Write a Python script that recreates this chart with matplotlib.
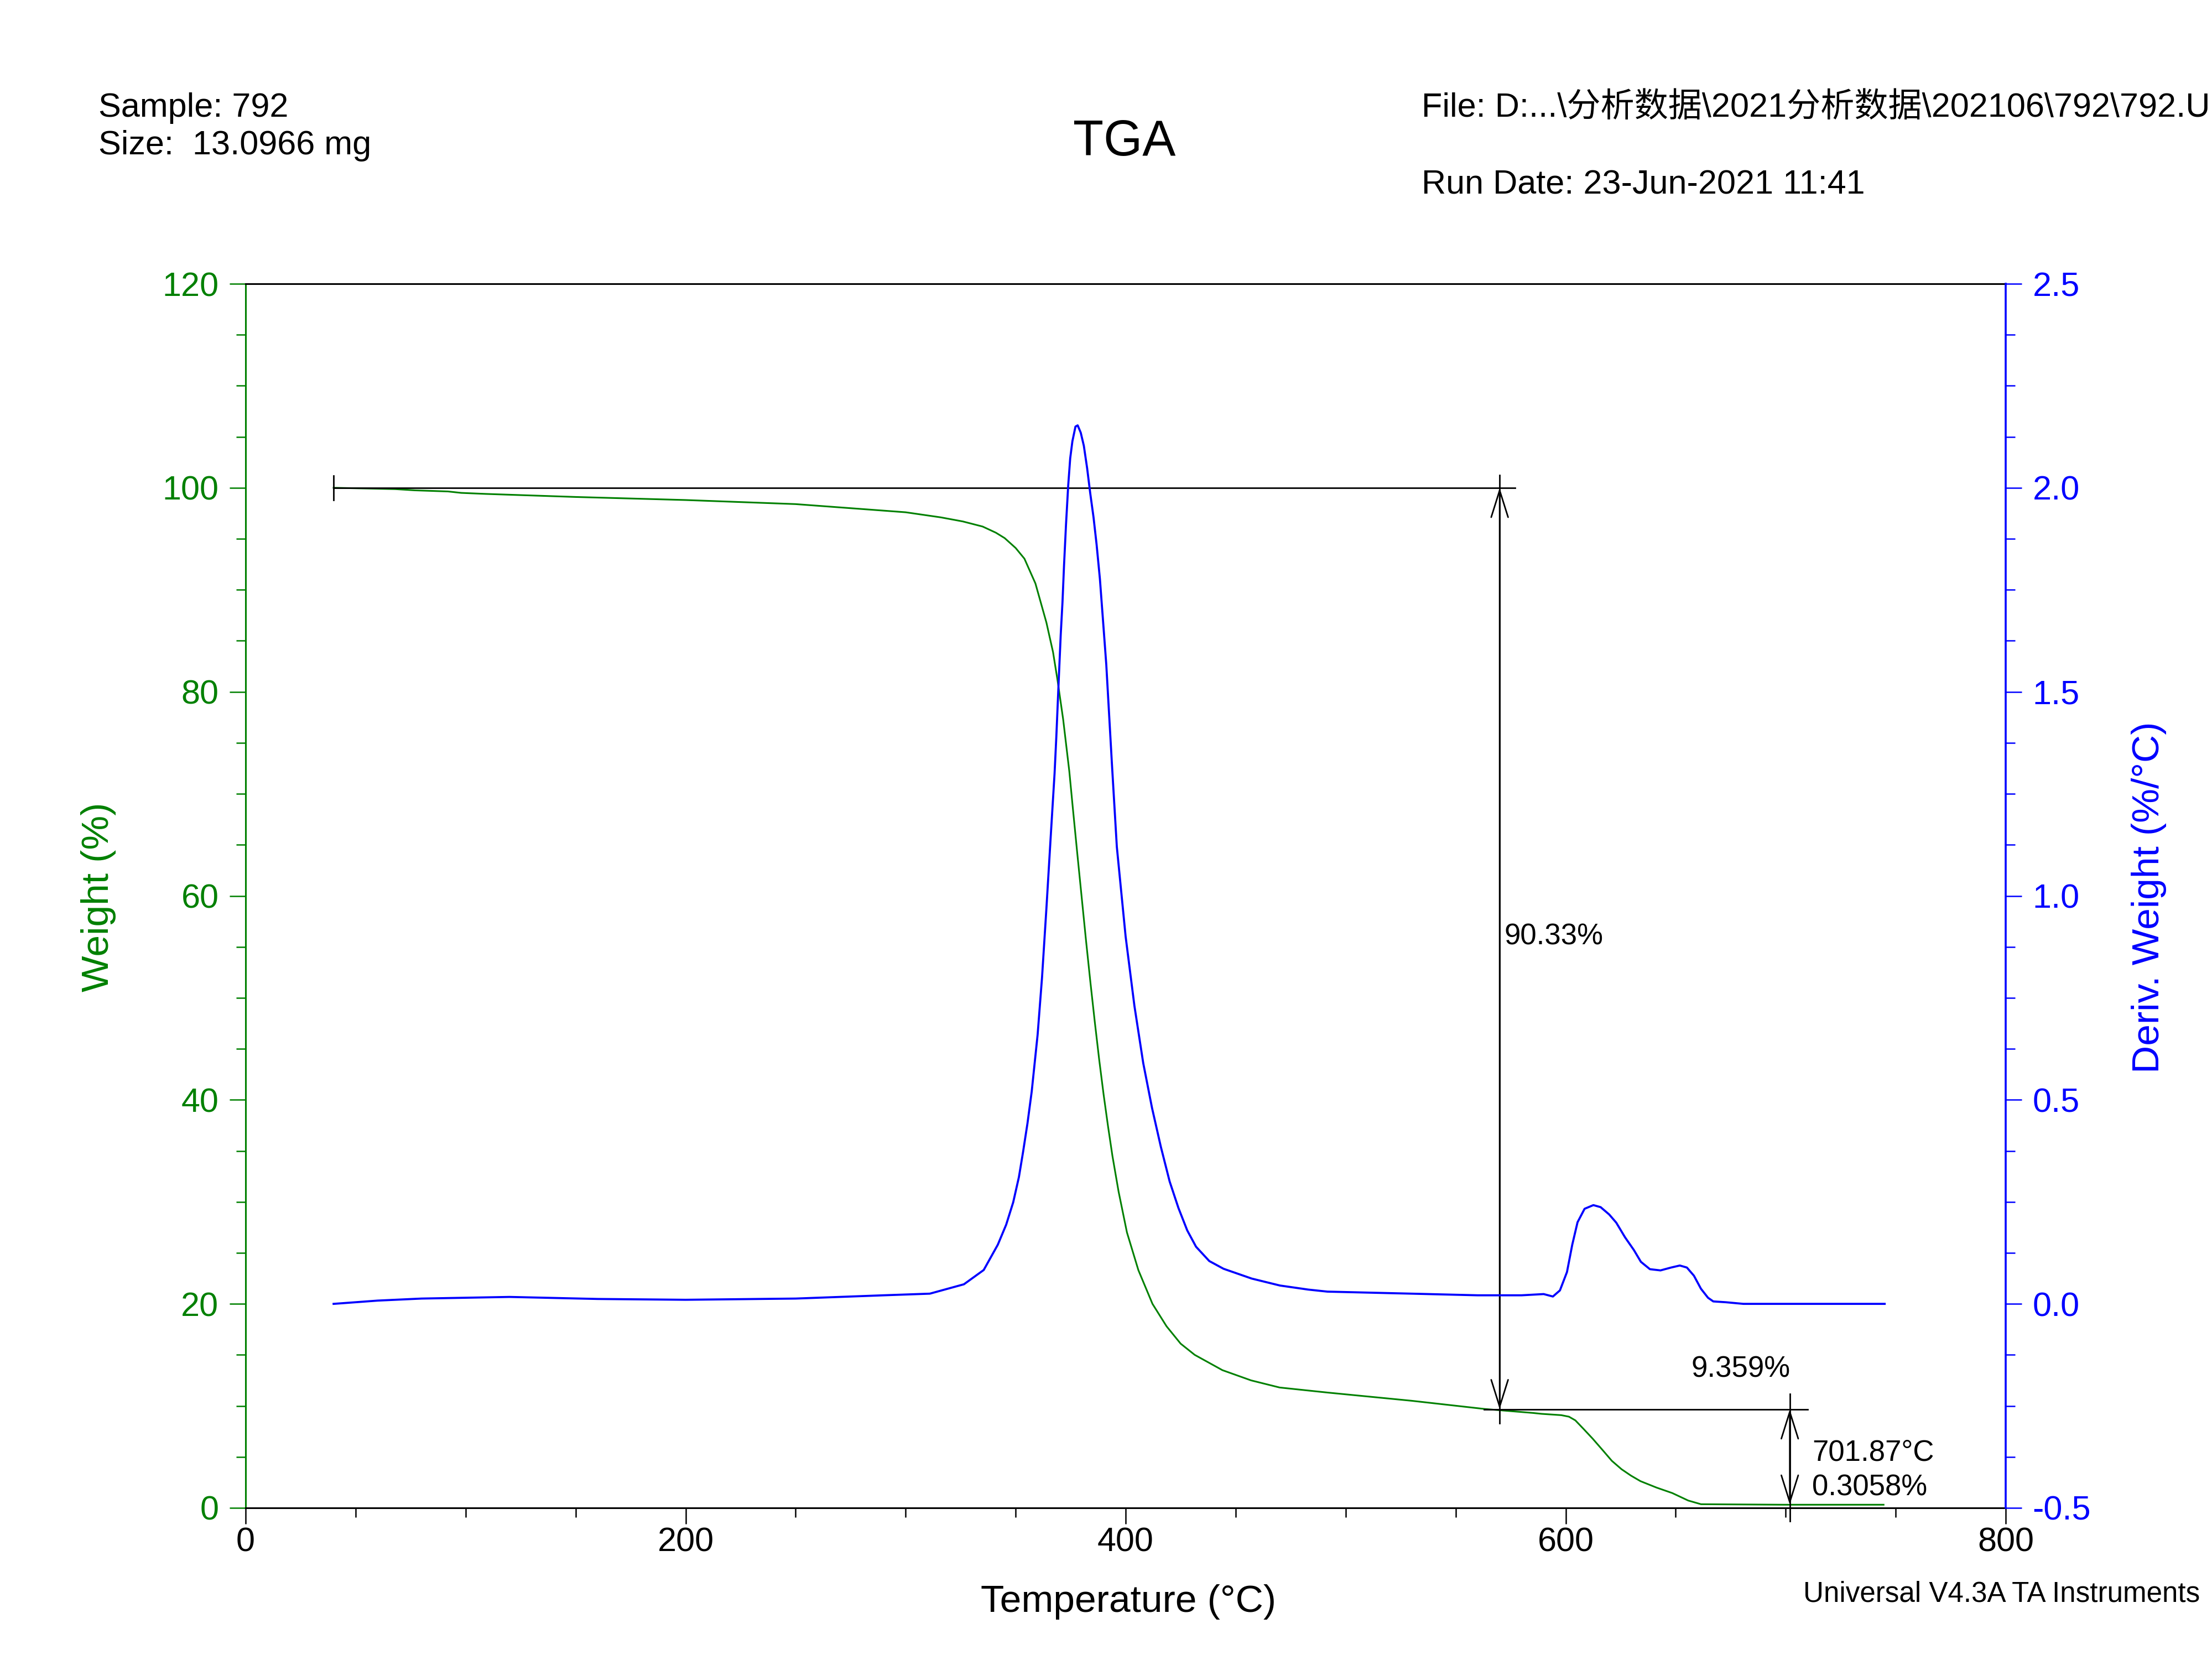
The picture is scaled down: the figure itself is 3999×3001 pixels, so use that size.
import numpy as np
import matplotlib
matplotlib.use("Agg")
import matplotlib.pyplot as plt
from matplotlib.ticker import MultipleLocator, FormatStrFormatter

plt.rcParams['font.family'] = ['Liberation Sans', 'Noto Sans CJK SC', 'DejaVu Sans']

# 중량 곡선 (Weight %)
temp_wt = [40, 68, 77, 92, 98, 109, 150, 200, 250, 300, 316, 326, 335, 341, 345, 350,
           354, 359, 364, 367, 369, 371.6, 374.4, 376, 378, 380, 382, 384, 386, 388, 390,
           392, 394, 396.8, 400.6, 405.8, 412.2, 418.6, 425, 431.4, 444, 457, 470, 492,
           530, 563, 573, 585, 589, 598, 601.5, 604.4, 608, 612.3, 616.7, 621, 625.4,
           629.7, 634, 641.3, 648.5, 655.7, 661.5, 699, 744.5]
weight = [100.0, 99.87, 99.75, 99.64, 99.5, 99.4, 99.1, 98.8, 98.4, 97.6, 97.1, 96.7,
          96.2, 95.6, 95.07, 94.1, 93.05, 90.62, 86.78, 83.89, 81.2, 77.3, 72.2, 68.6,
          64.2, 59.9, 55.6, 51.5, 47.6, 43.9, 40.5, 37.4, 34.5, 31.0, 27.0, 23.3, 20.0,
          17.8, 16.1, 15.0, 13.5, 12.5, 11.8, 11.3, 10.5, 9.70, 9.52, 9.31, 9.22, 9.09,
          8.94, 8.58, 7.77, 6.78, 5.69, 4.61, 3.79, 3.16, 2.62, 1.99, 1.45, 0.72, 0.36,
          0.31, 0.31]

# 미분 곡선 (Deriv. Weight %/°C)
temp_dv = [40, 60, 80, 120, 160, 200, 250, 290, 311, 326.5, 335.5, 341.9, 345.7, 348.9,
           351.5, 353.4, 355.4, 357.3, 360, 362, 364, 366, 367.7, 368.5, 369.6, 370.5,
           371.3, 372, 372.9, 373.9, 374.8, 375.8, 377.2, 378.2, 379.6, 381, 382.5, 383.9,
           385.4, 386.8, 388.3, 389.7, 391.2, 392.6, 393.8, 396, 400, 404, 408, 412,
           416, 420, 424, 428, 432, 438, 444.5, 457.3, 470.1, 483,
           491.7, 530, 560, 580, 590, 594.2, 597.4, 600.6, 603, 605.4, 608.6, 612.6,
           615.9, 619.8, 623, 627, 631, 634.2, 638.3, 643.1, 647.9, 651.9, 655.1, 658.3,
           661.5, 664.7, 667.1, 672.8, 680.8, 745]
deriv = [0.0, 0.008, 0.013, 0.017, 0.012, 0.010, 0.013, 0.021, 0.025, 0.048, 0.083,
         0.145, 0.194, 0.249, 0.311, 0.373, 0.443, 0.52, 0.66, 0.80, 0.97, 1.15, 1.30,
         1.39, 1.53, 1.64, 1.72, 1.81, 1.91, 2.006, 2.072, 2.114, 2.150, 2.153, 2.135,
         2.103, 2.048, 1.987, 1.928, 1.861, 1.777, 1.676, 1.567, 1.434, 1.32, 1.12, 0.90,
         0.73, 0.59, 0.48, 0.385, 0.30, 0.235, 0.18, 0.14, 0.105, 0.086, 0.062,
         0.045, 0.035, 0.030, 0.025, 0.021, 0.021, 0.024, 0.018, 0.033, 0.078, 0.145,
         0.20, 0.233, 0.242, 0.237, 0.219, 0.199, 0.163, 0.132, 0.103, 0.085, 0.082,
         0.089, 0.094, 0.089, 0.069, 0.037, 0.015, 0.006, 0.004, 0.0, 0.0]

# 분석 결과
start_t, w_start = 40, 100.0
step1_t, w_mid = 570, 9.67
step2_t, w_end = 701.87, 0.31
loss1_txt, loss2_txt = '90.33%', '9.359%'
res_t_txt, res_w_txt = '701.87°C', '0.3058%'

GREEN = '#008000'
BLUE = '#0000FF'

W, H = 3999, 3001
fig = plt.figure(figsize=(W / 100, H / 100), dpi=100)
ax = fig.add_axes([444 / W, 1 - 2726 / H, (3626 - 444) / W, (2726 - 513) / H])
ax2 = ax.twinx()

ax.plot(temp_wt, weight, color=GREEN, lw=2.2, zorder=2)
ax2.plot(temp_dv, deriv, color=BLUE, lw=2.7)

ax.set_xlim(0, 800)
ax.set_ylim(0, 120)
ax2.set_ylim(-0.5, 2.5)

ax.xaxis.set_major_locator(MultipleLocator(200))
ax.xaxis.set_minor_locator(MultipleLocator(50))
ax.yaxis.set_major_locator(MultipleLocator(20))
ax.yaxis.set_minor_locator(MultipleLocator(5))
ax2.yaxis.set_major_locator(MultipleLocator(0.5))
ax2.yaxis.set_minor_locator(MultipleLocator(0.125))
ax2.yaxis.set_major_formatter(FormatStrFormatter('%.1f'))

ax.tick_params(axis='x', which='major', direction='out', length=21, width=1.8,
               labelsize=44, pad=4, colors='black')
ax.tick_params(axis='x', which='minor', direction='out', length=12, width=1.8)
ax.tick_params(axis='y', which='major', direction='out', length=21, width=1.8,
               labelsize=44, pad=14, colors=GREEN)
ax.tick_params(axis='y', which='minor', direction='out', length=12, width=1.8, colors=GREEN)
ax2.tick_params(axis='y', which='major', direction='out', length=21, width=1.8,
                labelsize=44, pad=14, colors=BLUE)
ax2.tick_params(axis='y', which='minor', direction='out', length=12, width=1.8, colors=BLUE)

for s in ['top', 'bottom']:
    ax.spines[s].set_color('black')
    ax.spines[s].set_linewidth(2.2)
ax.spines['left'].set_color(GREEN)
ax.spines['left'].set_linewidth(2.2)
ax.spines['right'].set_visible(False)
for s in ['top', 'bottom', 'left']:
    ax2.spines[s].set_visible(False)
ax2.spines['right'].set_color(BLUE)
ax2.spines['right'].set_linewidth(2.6)

# 주석 선
lk = dict(color='black', lw=2.0, zorder=5, clip_on=False)
ax.plot([start_t, 577], [w_start, w_start], **lk)
ax.plot([start_t, start_t], [w_start - 1.2, w_start + 1.2], **lk)
ax.plot([step1_t, step1_t], [w_start + 1.25, w_mid - 1.4], **lk)
ax.plot([563, 710], [w_mid, w_mid], **lk)
ax.plot([step2_t, step2_t], [w_mid + 1.5, w_end - 1.6], **lk)

ap = dict(arrowstyle='<->,head_length=3.5,head_width=1.1', color='black', lw=2.0,
          shrinkA=0, shrinkB=0, mutation_scale=10)
ax.annotate('', xy=(step1_t, w_start), xytext=(step1_t, w_mid), arrowprops=ap, zorder=6)
ax.annotate('', xy=(step2_t, w_mid), xytext=(step2_t, w_end), arrowprops=ap, zorder=6)

ax.text(572, 56.0, loss1_txt, fontsize=38, va='center', ha='left')
ax.text(679.5, 13.6, loss2_txt, fontsize=38, va='center', ha='center')
ax.text(712, 5.4, res_t_txt, fontsize=38, va='center', ha='left')
ax.text(712, 2.0, res_w_txt, fontsize=38, va='center', ha='left')

# 축 제목
fig.text(2040 / W, 1 - 2896 / H, 'Temperature (°C)', fontsize=50, ha='center', va='center')
fig.text(178 / W, 1 - 1622 / H, 'Weight (%)', fontsize=50, color=GREEN,
         rotation=90, ha='center', va='center')
fig.text(3885 / W, 1 - 1622 / H, 'Deriv. Weight (%/°C)', fontsize=50, color=BLUE,
         rotation=90, ha='center', va='center')

# 헤더 정보
fig.text(178 / W, 1 - 195 / H, 'Sample: 792', fontsize=44, va='center', ha='left')
fig.text(178 / W, 1 - 264 / H, 'Size:  13.0966 mg', fontsize=44, va='center', ha='left')
fig.text(2033 / W, 1 - 257 / H, 'TGA', fontsize=65, va='center', ha='center')
fig.text(2570 / W, 1 - 195 / H, 'File: D:...\\分析数据\\2021分析数据\\202106\\792\\792.U',
         fontsize=44, va='center', ha='left')
fig.text(2570 / W, 1 - 335 / H, 'Run Date: 23-Jun-2021 11:41', fontsize=44,
         va='center', ha='left')
fig.text(3260 / W, 1 - 2882 / H, 'Universal V4.3A TA Instruments', fontsize=36.8,
         va='center', ha='left')

fig.savefig('out.png', dpi=100)
